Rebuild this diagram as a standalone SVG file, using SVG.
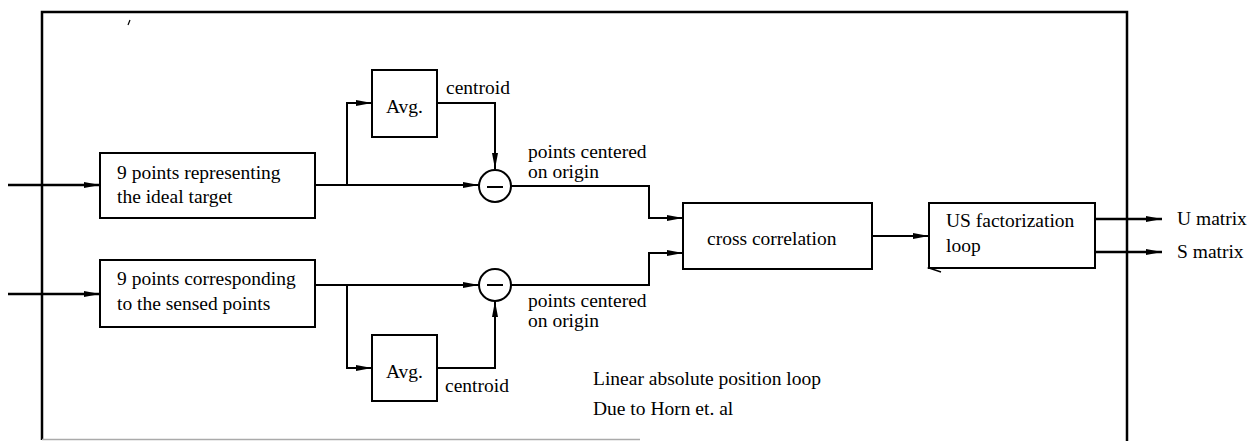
<svg xmlns="http://www.w3.org/2000/svg" width="1257" height="441" viewBox="0 0 1257 441" font-family="Liberation Serif, Times New Roman, serif" font-size="19.5">
<defs>
<marker id="ah" markerWidth="16" markerHeight="8" refX="16" refY="4" orient="auto" markerUnits="userSpaceOnUse">
<path d="M0,1 L16,4 L0,7 Z" fill="#000"/>
</marker>
<style>
.box{fill:#fff;stroke:#000;stroke-width:2}
.ln{fill:none;stroke:#000;stroke-width:2}
.th{fill:none;stroke:#000;stroke-width:2.5}
</style>
</defs>
<rect width="1257" height="441" fill="#fff"/>
<g id="frame">
<path class="th" d="M42,440 L42,12 L1127,12 L1127,441"/>
<line x1="42" y1="439.5" x2="640" y2="439.5" stroke="#aaa" stroke-width="1.5"/>
<line x1="130" y1="20" x2="128" y2="25" stroke="#000" stroke-width="1.2"/>
</g>
<g id="connectors">
<line class="th" x1="8" y1="185" x2="100" y2="185" marker-end="url(#ah)"/>
<line class="th" x1="8" y1="294" x2="100" y2="294" marker-end="url(#ah)"/>
<line class="ln" x1="315" y1="185" x2="479" y2="185" marker-end="url(#ah)"/>
<polyline class="ln" points="347,185 347,103 372,103" marker-end="url(#ah)"/>
<line class="ln" x1="315" y1="285" x2="479" y2="285" marker-end="url(#ah)"/>
<polyline class="ln" points="347,285 347,368 372,368" marker-end="url(#ah)"/>
<polyline class="ln" points="437,103 495,103 495,169" marker-end="url(#ah)"/>
<polyline class="ln" points="437,368 495,368 495,301" marker-end="url(#ah)"/>
<polyline class="ln" points="511,186 649,186 649,218 683,218" marker-end="url(#ah)"/>
<polyline class="ln" points="511,285 649,285 649,253 683,253" marker-end="url(#ah)"/>
<line class="ln" x1="872" y1="236" x2="929" y2="236" marker-end="url(#ah)"/>
<line class="th" x1="1095" y1="219" x2="1162" y2="219" marker-end="url(#ah)"/>
<line class="th" x1="1095" y1="252" x2="1162" y2="252" marker-end="url(#ah)"/>
<polyline fill="none" stroke="#000" stroke-width="1.5" points="941,264 929,268 941,272"/>
</g>
<g id="n-ideal">
<rect class="box" x="100" y="153" width="215" height="65"/>
<text x="117" y="179">9 points representing</text>
<text x="117" y="203">the ideal target</text>
</g>
<g id="n-sensed">
<rect class="box" x="100" y="260" width="215" height="67"/>
<text x="117" y="285">9 points corresponding</text>
<text x="117" y="310">to the sensed points</text>
</g>
<g id="n-avg1">
<rect class="box" x="372" y="70" width="65" height="67"/>
<text x="404.5" y="113" text-anchor="middle">Avg.</text>
</g>
<g id="n-avg2">
<rect class="box" x="372" y="335" width="65" height="66"/>
<text x="404.5" y="378" text-anchor="middle">Avg.</text>
</g>
<g id="n-sub1">
<circle class="ln" cx="495" cy="186" r="16" fill="#fff"/>
<line x1="487" y1="187" x2="503" y2="187" stroke="#000" stroke-width="2"/>
</g>
<g id="n-sub2">
<circle class="ln" cx="495" cy="285" r="16" fill="#fff"/>
<line x1="487" y1="285" x2="503" y2="285" stroke="#000" stroke-width="2"/>
</g>
<g id="n-cross">
<rect class="box" x="683" y="203" width="189" height="66"/>
<text x="707" y="245">cross correlation</text>
</g>
<g id="n-us">
<rect class="box" x="929" y="203" width="166" height="65"/>
<text x="946" y="227">US factorization</text>
<text x="946" y="252">loop</text>
</g>
<g id="labels">
<text x="446" y="94">centroid</text>
<text x="445" y="392">centroid</text>
<text x="528" y="158">points centered</text>
<text x="528" y="178">on origin</text>
<text x="528" y="307">points centered</text>
<text x="528" y="327">on origin</text>
<text x="1177" y="225">U matrix</text>
<text x="1177" y="258">S matrix</text>
<text x="593" y="385">Linear absolute position loop</text>
<text x="593" y="415">Due to Horn et. al</text>
</g>
</svg>
